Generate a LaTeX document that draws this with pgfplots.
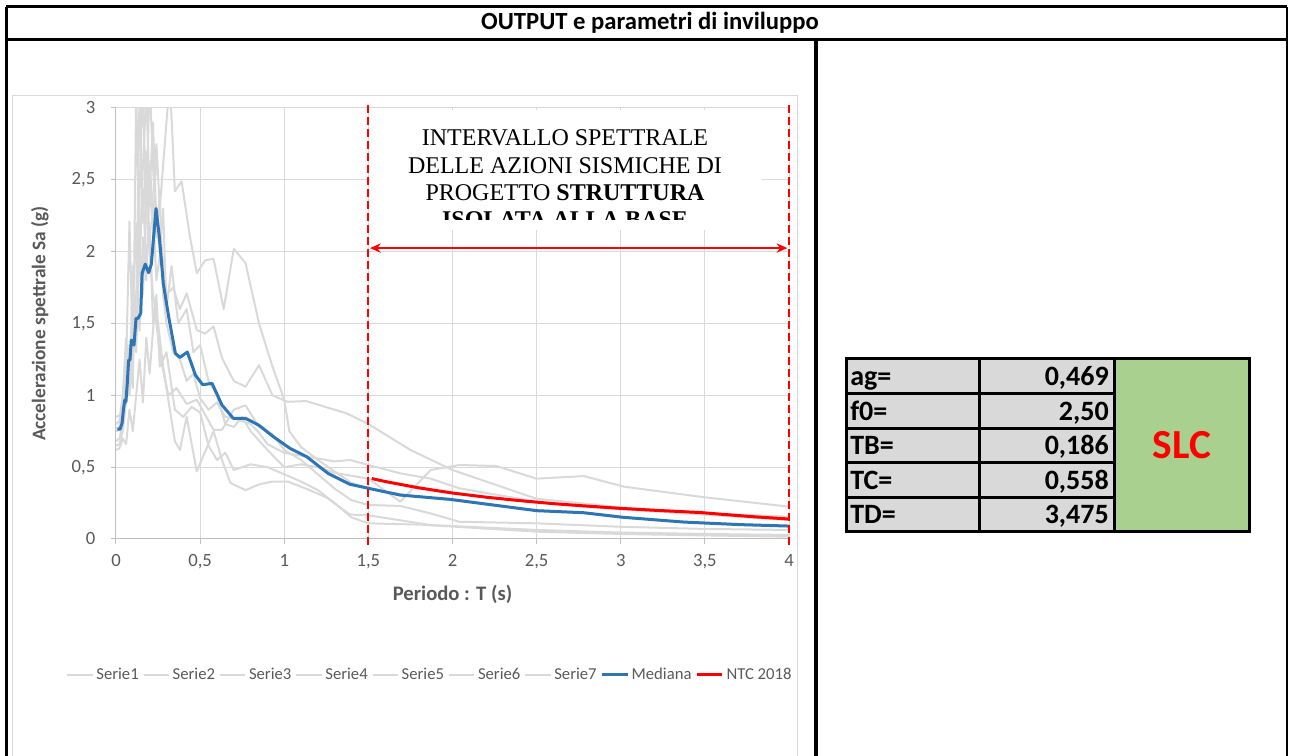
\documentclass[border=0pt]{standalone}
\usepackage{pgfplots}
\pgfplotsset{compat=1.18}
\usepackage{fontspec}
\setmainfont{Carlito}
\newfontfamily\timesfont{Liberation Serif}
\usetikzlibrary{arrows.meta}

\definecolor{grigio}{HTML}{D9D9D9}
\definecolor{assi}{HTML}{BFBFBF}
\definecolor{testo}{HTML}{595959}
\definecolor{blu}{HTML}{2E75B6}
\definecolor{verde}{HTML}{A9D08E}

\begin{document}
\begin{tikzpicture}
\path[use as bounding box] (0,0) rectangle (967.5pt,567pt);

% cornice e tabella (coordinate in pixel, origine in alto a sinistra)
\begin{scope}[yshift=567pt, x=0.75pt, y=-0.75pt]
  \draw[grigio, line width=0.75pt] (12,96) rectangle (797,770);
  \draw[line width=2.25pt] (6,7) -- (1287,7);
  \draw[line width=2.25pt] (6,40) -- (1287,40);
  \draw[line width=2.25pt] (6,7) -- (6,770);
  \draw[line width=2pt] (1287,7) -- (1287,770);
  \draw[line width=3pt] (816,40) -- (816,770);
  \node[font=\fontsize{18.5}{21}\selectfont\bfseries] at (650,23) {OUTPUT e parametri di inviluppo};

  \fill[grigio] (846,359) rectangle (1114,532);
  \fill[verde] (1114,359) rectangle (1249,532);
  \foreach \y in {394,429,463,498} \draw[line width=2.25pt] (846,\y) -- (1114,\y);
  \draw[line width=2.25pt] (979,359) -- (979,532);
  \draw[line width=2.25pt] (1114,359) -- (1114,532);
  \draw[line width=2.25pt] (846,359) rectangle (1249,532);
  \foreach \lab/\val/\yb in {ag=/{0,469}/386, f0=/{2,50}/421, TB=/{0,186}/455, TC=/{0,558}/490, TD=/{3,475}/524} {
    \node[anchor=base west, inner sep=0, font=\fontsize{21}{24}\selectfont\bfseries] at (850,\yb) {\lab};
    \node[anchor=base east, inner sep=0, font=\fontsize{21}{24}\selectfont\bfseries] at (1109,\yb) {\val};
  }
  \node[anchor=base, inner sep=0, text=red, font=\fontsize{31}{34}\selectfont\bfseries] at (1182,459) {SLC};
\end{scope}

\begin{axis}[
  at={(87pt,162.75pt)}, anchor=south west,
  scale only axis, width=504.75pt, height=323.25pt,
  xmin=0, xmax=4, ymin=0, ymax=3,
  axis x line=bottom, axis y line=left,
  axis line style={draw=assi, line width=0.75pt, -},
  xtick={0,0.5,...,4},
  xticklabels={0,{0,5},1,{1,5},2,{2,5},3,{3,5},4},
  ytick={0,0.5,...,3},
  yticklabels={0,{0,5},1,{1,5},2,{2,5},3},
  tick align=outside, major tick length=4pt,
  tick style={draw=assi, line width=0.75pt},
  grid=major, major grid style={draw=grigio, line width=0.75pt},
  ticklabel style={font=\fontsize{14}{16}\selectfont, text=testo},
  xticklabel style={yshift=-4pt},
  yticklabel style={xshift=-8pt},
  xlabel={Periodo : T (s)},
  ylabel={Accelerazione spettrale Sa (g)},
  xlabel style={font=\fontsize{15.5}{18}\selectfont\bfseries, text=testo, at={(axis description cs:0.5,-0.128)}, anchor=center},
  ylabel style={font=\fontsize{14.5}{17}\selectfont\bfseries, text=testo, at={(axis description cs:-0.113,0.5)}, anchor=center},
  clip mode=individual,
  legend columns=9,
  legend style={draw=none, fill=none, at={(0.467,-0.3155)}, anchor=center,
    font=\fontsize{12.5}{14}\selectfont, text=testo,
    /tikz/every even column/.append style={column sep=1pt},
    nodes={inner xsep=2pt}},
  legend image code/.code={\draw[#1] (0pt,0pt) -- (19pt,0pt);},
  every axis plot/.append style={line join=round},
]
% Serie1
\addplot[grigio, line width=1.5pt] coordinates {
(0,0.75)(0.02,0.76)(0.04,0.88)(0.06,1.05)(0.08,1.35)(0.1,1.2)(0.12,1.7)(0.14,1.45)(0.16,2.1)(0.18,1.8)(0.2,2.5)(0.22,2.1)(0.24,2.75)(0.26,2.3)(0.28,2.6)(0.32,3.2)(0.35,2.42)(0.39,2.49)(0.44,2.1)(0.48,1.85)(0.53,1.94)(0.58,1.95)(0.64,1.6)(0.7,2.02)(0.77,1.92)(0.85,1.5)(0.93,1.2)(1.0,0.97)(1.03,0.75)(1.1,0.64)(1.2,0.55)(1.3,0.47)(1.4,0.39)(1.5,0.35)(1.75,0.3)(2.0,0.27)(2.5,0.2)(2.75,0.185)(3.0,0.15)(3.5,0.11)(4.0,0.09)};
\addlegendentry{Serie1}
% Serie2
\addplot[grigio, line width=1.5pt] coordinates {
(0,0.68)(0.02,0.7)(0.04,0.8)(0.06,1.3)(0.08,1.0)(0.1,1.9)(0.12,1.5)(0.14,2.4)(0.16,3.2)(0.18,2.2)(0.2,2.6)(0.22,2.3)(0.24,1.8)(0.27,2.05)(0.3,1.7)(0.34,1.75)(0.38,1.6)(0.42,1.71)(0.48,1.455)(0.53,1.43)(0.58,1.48)(0.63,1.26)(0.7,1.1)(0.77,1.06)(0.85,1.21)(0.93,1.0)(1.02,0.955)(1.13,0.96)(1.37,0.875)(1.5,0.8)(1.75,0.62)(2.0,0.48)(2.5,0.28)(3.0,0.22)(3.5,0.18)(4.0,0.155)};
\addlegendentry{Serie2}
% Serie3
\addplot[grigio, line width=1.5pt] coordinates {
(0,0.62)(0.02,0.63)(0.04,0.7)(0.06,0.66)(0.08,0.9)(0.1,0.75)(0.12,1.0)(0.14,1.25)(0.16,0.95)(0.18,1.4)(0.2,1.15)(0.23,1.6)(0.26,1.3)(0.3,1.05)(0.35,0.68)(0.38,0.62)(0.42,0.85)(0.48,0.47)(0.52,0.58)(0.58,0.75)(0.63,0.55)(0.68,0.39)(0.77,0.34)(0.85,0.38)(0.93,0.4)(1.02,0.4)(1.13,0.35)(1.25,0.29)(1.39,0.17)(1.5,0.165)(1.87,0.097)(2.5,0.063)(3.0,0.045)(3.5,0.035)(4.0,0.028)};
\addlegendentry{Serie3}
% Serie4
\addplot[grigio, line width=1.5pt] coordinates {
(0,0.8)(0.02,0.82)(0.04,1.0)(0.06,1.4)(0.08,1.1)(0.1,1.6)(0.12,2.2)(0.14,1.9)(0.16,2.6)(0.18,3.1)(0.2,2.4)(0.22,2.9)(0.24,2.2)(0.26,2.0)(0.28,2.3)(0.3,1.6)(0.33,1.9)(0.37,1.5)(0.42,1.6)(0.46,1.3)(0.5,1.35)(0.55,1.1)(0.6,1.0)(0.65,0.8)(0.7,0.78)(0.75,0.85)(0.8,0.75)(0.9,0.62)(1.0,0.5)(1.1,0.52)(1.2,0.5)(1.3,0.46)(1.4,0.44)(1.5,0.42)(1.69,0.26)(1.87,0.48)(2.04,0.515)(2.26,0.508)(2.5,0.42)(2.78,0.438)(3.02,0.364)(3.5,0.29)(4.0,0.225)};
\addlegendentry{Serie4}
% Serie5
\addplot[grigio, line width=1.5pt] coordinates {
(0,0.77)(0.02,0.78)(0.04,0.95)(0.06,1.2)(0.08,1.0)(0.1,1.45)(0.12,1.3)(0.14,2.0)(0.16,1.7)(0.18,2.3)(0.2,3.2)(0.22,2.6)(0.24,2.1)(0.26,2.4)(0.28,1.7)(0.3,1.5)(0.34,1.3)(0.38,1.25)(0.42,1.1)(0.46,1.15)(0.5,0.98)(0.55,0.9)(0.6,0.95)(0.65,0.85)(0.7,0.84)(0.75,0.82)(0.8,0.8)(0.85,0.74)(0.9,0.66)(1.0,0.6)(1.1,0.58)(1.2,0.56)(1.3,0.54)(1.39,0.55)(1.5,0.515)(1.69,0.457)(1.87,0.42)(2.04,0.353)(2.5,0.26)(2.77,0.225)(3.37,0.179)(4.0,0.132)};
\addlegendentry{Serie5}
% Serie6
\addplot[grigio, line width=1.5pt] coordinates {
(0,0.85)(0.02,0.86)(0.04,0.9)(0.06,1.2)(0.08,2.21)(0.1,1.3)(0.12,1.6)(0.14,3.1)(0.16,2.2)(0.18,2.7)(0.2,2.0)(0.22,1.7)(0.25,1.5)(0.28,1.2)(0.31,1.0)(0.36,1.05)(0.42,0.94)(0.48,0.97)(0.58,0.76)(0.63,0.76)(0.7,0.9)(0.77,0.93)(0.85,0.78)(0.93,0.73)(1.0,0.62)(1.1,0.55)(1.2,0.45)(1.3,0.35)(1.4,0.27)(1.5,0.237)(1.69,0.23)(1.87,0.178)(2.04,0.12)(2.5,0.109)(3.0,0.085)(3.5,0.07)(4.0,0.063)};
\addlegendentry{Serie6}
% Serie7
\addplot[grigio, line width=1.5pt] coordinates {
(0,0.65)(0.02,0.66)(0.04,0.75)(0.06,0.95)(0.08,1.2)(0.1,1.05)(0.12,3.1)(0.14,2.0)(0.16,2.4)(0.18,1.9)(0.2,2.2)(0.22,1.5)(0.24,1.7)(0.26,1.2)(0.3,1.3)(0.35,0.9)(0.4,0.85)(0.45,0.92)(0.5,0.88)(0.55,0.65)(0.6,0.55)(0.65,0.6)(0.7,0.48)(0.75,0.5)(0.8,0.52)(0.9,0.5)(1.0,0.45)(1.1,0.4)(1.2,0.34)(1.3,0.25)(1.4,0.15)(1.5,0.109)(1.81,0.1)(2.5,0.051)(3.0,0.035)(3.5,0.025)(4.0,0.016)};
\addlegendentry{Serie7}
% Mediana
\addplot[blu, line width=2.25pt] coordinates {
(0.008,0.764)(0.024,0.764)(0.036,0.805)(0.044,0.898)(0.052,0.967)(0.059,0.955)(0.067,1.083)(0.075,1.245)(0.083,1.245)(0.091,1.385)(0.107,1.35)(0.119,1.536)(0.131,1.536)(0.147,1.57)(0.155,1.849)(0.174,1.913)(0.194,1.853)(0.21,1.913)(0.238,2.30)(0.258,2.1)(0.281,1.779)(0.313,1.547)(0.353,1.292)(0.38,1.264)(0.424,1.301)(0.472,1.141)(0.515,1.074)(0.571,1.083)(0.63,0.932)(0.697,0.84)(0.769,0.84)(0.848,0.793)(0.935,0.712)(1.034,0.631)(1.133,0.573)(1.26,0.457)(1.39,0.381)(1.5,0.353)(1.688,0.306)(1.985,0.276)(2.5,0.197)(2.778,0.183)(3.015,0.151)(3.372,0.118)(3.709,0.1)(4.0,0.09)};
\addlegendentry{Mediana}
% NTC 2018
\addplot[red, line width=2.25pt] coordinates {
(1.52,0.421)(1.6,0.40)(1.8,0.356)(2.0,0.32)(2.2,0.291)(2.4,0.267)(2.6,0.246)(2.8,0.229)(3.0,0.213)(3.2,0.2)(3.475,0.184)(3.6,0.172)(3.8,0.154)(4.0,0.139)};
\addlegendentry{NTC 2018}

\draw[red, line width=1.5pt, dash pattern=on 6pt off 3pt] (axis cs:1.5,-0.04) -- (axis cs:1.5,3.02);
\draw[red, line width=1.5pt, dash pattern=on 6pt off 3pt] (axis cs:4,-0.04) -- (axis cs:4,3.04);
\draw[red, line width=1.5pt, {Stealth[length=8pt,width=7pt]}-{Stealth[length=8pt,width=7pt]}] (axis cs:1.51,2.025) -- (axis cs:3.99,2.025);
\end{axis}

% riquadro di testo
\begin{scope}[yshift=567pt, x=0.75pt, y=-0.75pt]
  \fill[white] (370,110) rectangle (762,230);
  \begin{scope}
    \clip (370,110) rectangle (762,220);
    \node[anchor=base, inner sep=0, font=\timesfont\fontsize{18}{20}\selectfont] at (565,146) {INTERVALLO SPETTRALE};
    \node[anchor=base, inner sep=0, font=\timesfont\fontsize{18}{20}\selectfont] at (565,173.3) {DELLE AZIONI SISMICHE DI};
    \node[anchor=base, inner sep=0, font=\timesfont\fontsize{18}{20}\selectfont] at (565,200.7) {PROGETTO \textbf{STRUTTURA}};
    \node[anchor=base, inner sep=0, font=\timesfont\fontsize{18}{20}\selectfont\bfseries] at (565,228) {ISOLATA ALLA BASE};
  \end{scope}
\end{scope}
\end{tikzpicture}
\end{document}
